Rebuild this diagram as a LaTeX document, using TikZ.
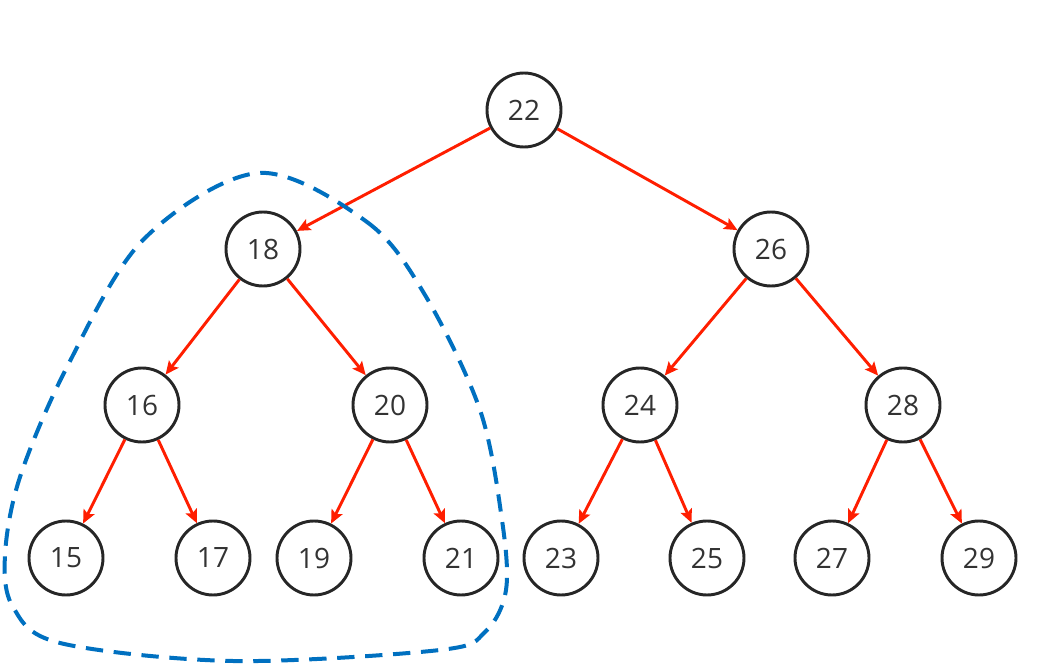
\documentclass[tikz,border=0pt]{standalone}
\usepackage{fontspec}
\setmainfont{Open Sans}
\usetikzlibrary{arrows.meta}
\begin{document}
\begin{tikzpicture}[x=0.75pt,y=-0.75pt,
  tn/.style={circle,draw=black!85,line width=2.2pt,minimum size=55.5pt,inner sep=0pt,font=\fontsize{21}{21}\selectfont,text=black!80},
  ed/.style={draw={rgb,255:red,255;green,30;blue,0},line width=2.2pt,-{Stealth[length=10pt,width=9pt,inset=2pt]}},
  grp/.style={draw={rgb,255:red,0;green,112;blue,192},line width=3pt,dash pattern=on 13pt off 8pt}]
\useasboundingbox (0,0) rectangle (1040,667);
\node[tn] (n22) at (524,110) {22};
\node[tn] (n18) at (263,249) {18};
\node[tn] (n26) at (771,249) {26};
\node[tn] (n16) at (142,405) {16};
\node[tn] (n20) at (390,405) {20};
\node[tn] (n24) at (640,405) {24};
\node[tn] (n28) at (903,405) {28};
\node[tn] (n15) at (66,558) {15};
\node[tn] (n17) at (213,558) {17};
\node[tn] (n19) at (314,558) {19};
\node[tn] (n21) at (461,558) {21};
\node[tn] (n23) at (561,558) {23};
\node[tn] (n25) at (707,558) {25};
\node[tn] (n27) at (832,558) {27};
\node[tn] (n29) at (979,558) {29};
\foreach \a/\b in {22/18,22/26,18/16,18/20,26/24,26/28,16/15,16/17,20/19,20/21,24/23,24/25,28/27,28/29}
  \draw[ed] (n\a) -- (n\b);
\draw[grp] plot[smooth cycle,tension=0.55] coordinates {(258,173) (367,222) (425,295) (480,410) (502,520) (506,590) (485,632) (440,650) (233,661) (60,643) (13,607) (5,555) (20,477) (67,367) (143,240)};
\end{tikzpicture}
\end{document}
